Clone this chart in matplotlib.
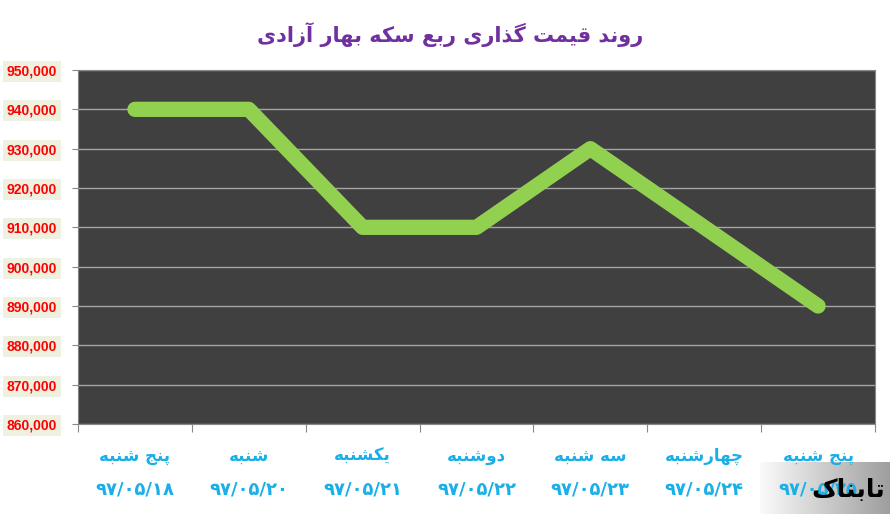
import numpy as np
import matplotlib
matplotlib.use("Agg")
import matplotlib.pyplot as plt
import matplotlib.transforms as mtransforms

# --- data ---
title = "روند قیمت گذاری ربع سکه بهار آزادی"
days = ["پنج شنبه", "شنبه", "یکشنبه", "دوشنبه", "سه شنبه", "چهارشنبه", "پنج شنبه"]
dates = ["۹۷/۰۵/۱۸", "۹۷/۰۵/۲۰", "۹۷/۰۵/۲۱", "۹۷/۰۵/۲۲", "۹۷/۰۵/۲۳", "۹۷/۰۵/۲۴", "۹۷/۰۵/۲۵"]
prices = [940000, 940000, 910000, 910000, 930000, 910000, 890000]
yticks = list(range(860000, 950001, 10000))

# --- tiny persian shaper (matplotlib has no bidi / joining) ---
# forms: isolated, final, initial, medial
FORMS = {
    'ا': (0xFE8D, 0xFE8E), 'آ': (0xFE81, 0xFE82), 'د': (0xFEA9, 0xFEAA),
    'ذ': (0xFEAB, 0xFEAC), 'ر': (0xFEAD, 0xFEAE), 'ز': (0xFEAF, 0xFEB0),
    'و': (0xFEED, 0xFEEE),
    'ب': (0xFE8F, 0xFE90, 0xFE91, 0xFE92), 'ت': (0xFE95, 0xFE96, 0xFE97, 0xFE98),
    'ج': (0xFE9D, 0xFE9E, 0xFE9F, 0xFEA0), 'س': (0xFEB1, 0xFEB2, 0xFEB3, 0xFEB4),
    'ش': (0xFEB5, 0xFEB6, 0xFEB7, 0xFEB8), 'ع': (0xFEC9, 0xFECA, 0xFECB, 0xFECC),
    'ق': (0xFED5, 0xFED6, 0xFED7, 0xFED8), 'ل': (0xFEDD, 0xFEDE, 0xFEDF, 0xFEE0),
    'م': (0xFEE1, 0xFEE2, 0xFEE3, 0xFEE4), 'ن': (0xFEE5, 0xFEE6, 0xFEE7, 0xFEE8),
    'ه': (0xFEE9, 0xFEEA, 0xFEEB, 0xFEEC), 'پ': (0xFB56, 0xFB57, 0xFB58, 0xFB59),
    'چ': (0xFB7A, 0xFB7B, 0xFB7C, 0xFB7D), 'ک': (0xFB8E, 0xFB8F, 0xFB90, 0xFB91),
    'گ': (0xFB92, 0xFB93, 0xFB94, 0xFB95), 'ی': (0xFBFC, 0xFBFD, 0xFBFE, 0xFBFF),
}


def shape(s):
    out = []
    for i, c in enumerate(s):
        if c not in FORMS:
            out.append(c)
            continue
        f = FORMS[c]
        prev = s[i - 1] if i > 0 else ''
        nxt = s[i + 1] if i + 1 < len(s) else ''
        join_prev = prev in FORMS and len(FORMS[prev]) == 4
        join_next = len(f) == 4 and nxt in FORMS
        if join_prev and join_next:
            k = 3
        elif join_prev:
            k = 1
        elif join_next:
            k = 2
        else:
            k = 0
        out.append(chr(f[k]))
    return ''.join(out)[::-1]


plt.rcParams['font.family'] = ['DejaVu Sans']

fig = plt.figure(figsize=(8.9, 5.14), dpi=100)

# watermark box bottom right (under the date labels)
wax = fig.add_axes([760 / 890, 0, 130 / 890, 52 / 514])
grad = np.linspace(0.98, 0.62, 200).reshape(1, -1)
wax.imshow(grad, cmap='gray', vmin=0, vmax=1, aspect='auto', extent=(0, 1, 0, 1))
wax.set_axis_off()
wax.set_zorder(0)

ax = fig.add_axes([78 / 890, 1 - 424 / 514, 797 / 890, 354 / 514])
ax.set_zorder(1)
ax.set_facecolor('#404040')

x = np.arange(len(prices))
ax.plot(x, prices, color='#92D050', lw=11, solid_capstyle='round',
        solid_joinstyle='round', zorder=3)

ax.set_xlim(-0.5, len(prices) - 0.5)
ax.set_ylim(860000, 950000)
ax.set_yticks(yticks)
ax.set_yticklabels([f"{v:,}" for v in yticks])
ax.grid(axis='y', color='#A6A6A6', lw=1)
ax.set_axisbelow(True)

for lab in ax.get_yticklabels():
    lab.set_color('#FF0000')
    lab.set_fontweight('bold')
    lab.set_fontsize(10)
    lab.set_family(['Liberation Sans', 'DejaVu Sans'])
    lab.set_bbox(dict(facecolor='#EEF0E0', edgecolor='none', pad=2.5))
ax.tick_params(axis='y', length=4, color='#888888', pad=11)

ax.set_xticks(np.arange(-0.5, len(prices), 1))
ax.set_xticklabels([])
ax.tick_params(axis='x', length=6, color='#888888')

for sp in ax.spines.values():
    sp.set_color('#888888')

trans = mtransforms.blended_transform_factory(ax.transData, fig.transFigure)
for i, (d, dt) in enumerate(zip(days, dates)):
    ax.text(i, 1 - 456 / 514, shape(d), transform=trans, ha='center', va='center',
            color='#1AAFE8', fontsize=12, fontweight='bold', clip_on=False)
    ax.text(i, 1 - 490 / 514, dt, transform=trans, ha='center', va='center',
            color='#1AAFE8', fontsize=13, fontweight='bold', clip_on=False)

fig.text(450 / 890, 1 - 35 / 514, shape(title), ha='center', va='center',
         color='#7030A0', fontsize=15, fontweight='bold')

# logo text on top of everything
fig.text(848 / 890, 1 - 490 / 514, shape("تابناک"), ha='center', va='center',
         fontsize=18, fontweight='bold', color='black', zorder=10)

fig.savefig('out.png', dpi=100)
